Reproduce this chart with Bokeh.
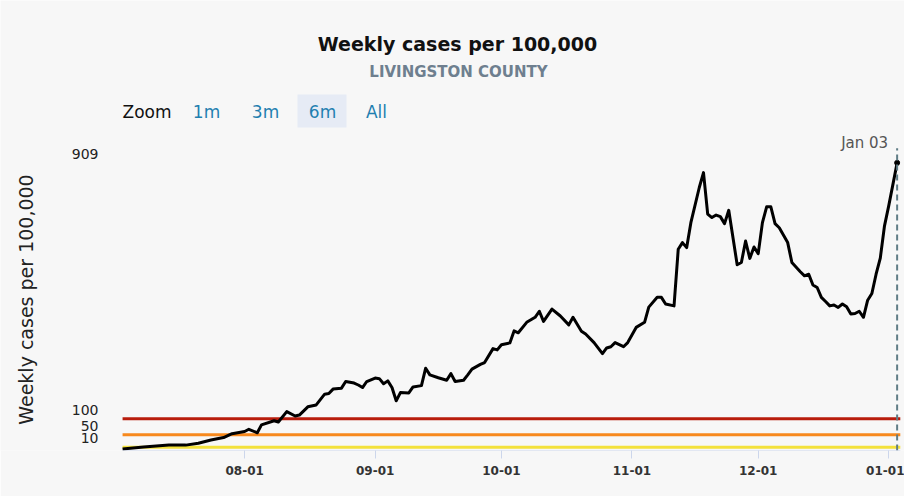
import pandas as pd
from bokeh.plotting import figure
from bokeh.models import (Range1d, Label, BoxAnnotation, ColumnDataSource, FixedTicker,
                          DatetimeTickFormatter)
from bokeh.embed import file_html
from bokeh.resources import INLINE

# ---- data ----
dates = [
    "2021-07-03", "2021-07-08", "2021-07-14", "2021-07-18", "2021-07-21", "2021-07-24", "2021-07-27", "2021-07-29",
    "2021-08-01", "2021-08-02", "2021-08-04", "2021-08-05", "2021-08-08", "2021-08-09", "2021-08-11", "2021-08-13",
    "2021-08-14", "2021-08-16", "2021-08-18", "2021-08-20", "2021-08-21", "2021-08-22", "2021-08-24", "2021-08-25",
    "2021-08-27", "2021-08-28", "2021-08-29", "2021-08-30", "2021-09-01", "2021-09-02", "2021-09-03", "2021-09-04",
    "2021-09-05", "2021-09-06", "2021-09-07", "2021-09-09", "2021-09-10", "2021-09-12", "2021-09-13", "2021-09-14",
    "2021-09-16", "2021-09-18", "2021-09-19", "2021-09-20", "2021-09-22", "2021-09-23", "2021-09-24", "2021-09-26",
    "2021-09-27", "2021-09-29", "2021-09-30", "2021-10-01", "2021-10-03", "2021-10-04", "2021-10-05", "2021-10-07",
    "2021-10-09", "2021-10-10", "2021-10-11", "2021-10-13", "2021-10-15", "2021-10-17", "2021-10-18", "2021-10-20",
    "2021-10-21", "2021-10-23", "2021-10-25", "2021-10-26", "2021-10-27", "2021-10-28", "2021-10-30", "2021-10-31",
    "2021-11-02", "2021-11-04", "2021-11-05", "2021-11-07", "2021-11-08", "2021-11-09", "2021-11-11", "2021-11-12",
    "2021-11-13", "2021-11-14", "2021-11-15", "2021-11-17", "2021-11-18", "2021-11-19", "2021-11-20", "2021-11-21",
    "2021-11-22", "2021-11-23", "2021-11-24", "2021-11-26", "2021-11-27", "2021-11-28", "2021-11-29", "2021-11-30",
    "2021-12-01", "2021-12-02", "2021-12-03", "2021-12-04", "2021-12-05", "2021-12-06", "2021-12-08", "2021-12-09",
    "2021-12-11", "2021-12-12", "2021-12-13", "2021-12-14", "2021-12-15", "2021-12-16", "2021-12-17", "2021-12-18",
    "2021-12-19", "2021-12-20", "2021-12-21", "2021-12-22", "2021-12-23", "2021-12-24", "2021-12-25", "2021-12-26",
    "2021-12-27", "2021-12-28", "2021-12-29", "2021-12-30", "2021-12-31", "2022-01-01", "2022-01-03",
]
cases = [
    5, 11, 17, 17, 23, 33, 41, 53,
    60, 67, 56, 81, 94, 90, 123, 109,
    112, 138, 144, 178, 180, 194, 197, 218,
    213, 207, 199, 218, 229, 227, 211, 220,
    199, 157, 183, 182, 201, 205, 260, 239,
    230, 222, 243, 218, 222, 239, 257, 272,
    278, 322, 318, 334, 340, 378, 372, 405,
    421, 440, 408, 447, 425, 397, 421, 377,
    368, 341, 306, 324, 328, 341, 328, 341,
    389, 405, 453, 484, 484, 463, 457, 636,
    657, 641, 720, 831, 878, 747, 736, 744,
    739, 717, 759, 587, 594, 662, 607, 643,
    622, 720, 770, 770, 717, 704, 657, 594,
    565, 552, 557, 523, 515, 484, 471, 457,
    460, 452, 463, 454, 431, 433, 440, 421,
    475, 496, 557, 608, 710, 773, 909,
]
threshold_values = [100, 50, 10]
threshold_colors = ["#b81c0c", "#f7891d", "#f3e13b"]
y_tick_values = [909, 100, 50, 10]
y_axis_max = 955
x_axis_min = "2021-07-03"
x_axis_max = "2022-01-03 18:00"
x_tick_dates = ["2021-08-01", "2021-09-01", "2021-10-01", "2021-11-01", "2021-12-01", "2022-01-01"]
zoom_buttons = ["1m", "3m", "6m", "All"]
selected_zoom = "6m"
title_text = "Weekly cases per 100,000"
subtitle_text = "LIVINGSTON COUNTY"
y_axis_title = "Weekly cases per 100,000"
last_label = "Jan 03"

FONT = "DejaVu Sans"
W, H = 904, 496
FRAME_BOTTOM = 450            # px from top of canvas where value 0 sits

df = pd.DataFrame({"date": pd.to_datetime(dates), "cases": cases})
src = ColumnDataSource(df)
last_date = df["date"].iloc[-1]
xmin = pd.Timestamp(x_axis_min)
xmax = pd.Timestamp(x_axis_max)

# The frame spans the whole canvas width/top so that the surrounding texts are drawn inside it.
p = figure(
    width=W, height=H, x_axis_type="datetime", title=None,
    output_backend="svg", toolbar_location=None,
    x_range=Range1d(xmin - pd.Timedelta(days=29), pd.Timestamp("2022-01-03") + pd.Timedelta(days=1.75)),
    y_range=Range1d(0, 1422),
    min_border_left=0, min_border_right=0, min_border_top=0, min_border_bottom=H - FRAME_BOTTOM,
)
p.background_fill_color = "#f7f7f7"
p.border_fill_color = "#f7f7f7"
p.outline_line_color = None
p.xgrid.visible = False
p.ygrid.visible = False
p.yaxis.visible = False

ax = p.xaxis[0]
ax.ticker = FixedTicker(ticks=[pd.Timestamp(d).value / 1e6 for d in x_tick_dates])
ax.formatter = DatetimeTickFormatter(days="%m-%d", months="%m-%d", years="%m-%d", hours="%m-%d")
ax.axis_line_color = None
ax.major_tick_line_color = "#ccd6eb"
ax.major_tick_out = 8
ax.major_tick_in = 0
ax.minor_tick_line_color = None
ax.major_label_standoff = 7
ax.major_label_text_font = FONT
ax.major_label_text_font_size = "12px"
ax.major_label_text_font_style = "bold"
ax.major_label_text_color = "#333333"

# x axis line (only over the plotted period)
p.segment(x0=[xmin], y0=[0], x1=[xmax], y1=[0], line_color="#ccd6eb", line_width=1)

# threshold lines
p.segment(x0=[xmin] * len(threshold_values), y0=threshold_values,
          x1=[xmax] * len(threshold_values), y1=threshold_values,
          line_color=threshold_colors, line_width=3)

# series
p.line("date", "cases", source=src, line_color="black", line_width=3, line_join="round")
p.scatter(x=[last_date], y=[cases[-1]], size=5, color="black")

# last-date marker
p.segment(x0=[last_date], y0=[0], x1=[last_date], y1=[y_axis_max],
          line_color="#5f7c85", line_width=2, line_dash="6 4")
p.add_layout(Label(x=last_date, y=308, y_units="screen", x_offset=-9, text=last_label,
                   text_align="right", text_baseline="middle", text_font=FONT,
                   text_font_size="15px", text_color="#555555"))

# y tick labels (value sits just below the text)
for v in y_tick_values:
    p.add_layout(Label(x=98, x_units="screen", y=v, y_offset=4, text=str(v), text_align="right",
                       text_baseline="bottom", text_font=FONT, text_font_size="14px",
                       text_color="#222222"))

# y axis title
p.add_layout(Label(x=25, y=151, x_units="screen", y_units="screen", text=y_axis_title,
                   angle=90, angle_units="deg", text_align="center", text_baseline="middle",
                   text_font=FONT, text_font_size="19px", text_color="#222222"))

# titles
p.add_layout(Label(x=457, y=407, x_units="screen", y_units="screen", text=title_text,
                   text_align="center", text_baseline="middle", text_font=FONT,
                   text_font_size="19px", text_font_style="bold", text_color="#111111"))
p.add_layout(Label(x=458, y=379, x_units="screen", y_units="screen", text=subtitle_text,
                   text_align="center", text_baseline="middle", text_font=FONT,
                   text_font_size="15px", text_font_style="bold", text_color="#6e7f8f"))

# zoom buttons
p.add_layout(BoxAnnotation(left=297, right=346, top=356, bottom=323,
                           left_units="screen", right_units="screen",
                           top_units="screen", bottom_units="screen",
                           fill_color="#e6ebf5", fill_alpha=1.0, line_color=None))
p.add_layout(Label(x=122, y=339, x_units="screen", y_units="screen", text="Zoom",
                   text_align="left", text_baseline="middle", text_font=FONT,
                   text_font_size="17px", text_color="#111111"))
btn_x = [206, 265, 322, 376]
for bx, t in zip(btn_x, zoom_buttons):
    p.add_layout(Label(x=bx, y=339, x_units="screen", y_units="screen", text=t,
                       text_align="center", text_baseline="middle", text_font=FONT,
                       text_font_size="17px", text_color="#1f7fb0"))

open("out.html", "w").write(file_html(p, INLINE))
